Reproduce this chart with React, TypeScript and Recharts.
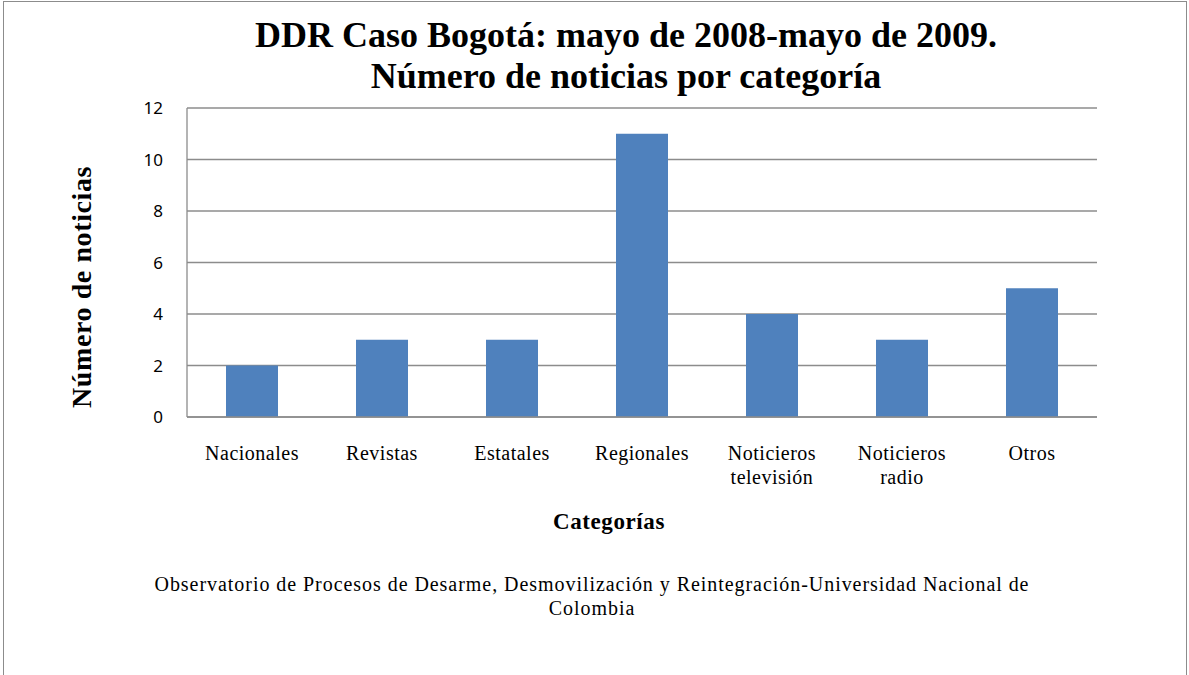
import * as React from 'react';
import { BarChart, Bar, XAxis, YAxis, CartesianGrid } from 'recharts';

const categories = [
    'Nacionales',
    'Revistas',
    'Estatales',
    'Regionales',
    'Noticieros televisión',
    'Noticieros radio',
    'Otros',
];
const noticias = [2, 3, 3, 11, 4, 3, 5];
const yTicks = [0, 2, 4, 6, 8, 10, 12];

const data = categories.map((name, i) => ({ name, value: noticias[i] }));

const serif = '"Liberation Serif", "DejaVu Serif", serif';
const sans = '"Noto Sans", "Liberation Sans", sans-serif';

const CategoryTick = (props: any) => {
    const { x, y, payload } = props;
    const words: string[] = payload.value.split(' ');
    return (
        <text x={x} y={y + 35} textAnchor='middle' fontFamily={serif} fontSize={20} letterSpacing={0.5} fill='#000'>
            {words.map((w, i) => (
                <tspan key={i} x={x} dy={i === 0 ? 0 : 24}>{w}</tspan>
            ))}
        </text>
    );
};

export default function App() {
    return (
        <div style={{ position: 'absolute', left: 0, top: 0, width: 1189, height: 675, background: '#fff', overflow: 'hidden' }}>
            <div style={{ position: 'absolute', left: 3, top: 1, width: 1184, height: 700, border: '1px solid #8c8c8c', boxSizing: 'border-box' }} />
            <div style={{
                position: 'absolute', left: 0, top: 15, width: 1252, textAlign: 'center',
                fontFamily: serif, fontWeight: 'bold', fontSize: 36, lineHeight: '41px', color: '#000',
            }}>
                DDR Caso Bogotá: mayo de 2008-mayo de 2009.<br />Número de noticias por categoría
            </div>
            <BarChart
                width={1189}
                height={675}
                data={data}
                margin={{ top: 108, right: 92, bottom: 198, left: 127 }}
                style={{ position: 'absolute', left: 0, top: 0 }}
            >
                <CartesianGrid vertical={false} stroke='#8c8c8c' strokeWidth={1.3} />
                <XAxis
                    dataKey='name'
                    height={60}
                    tickLine={false}
                    axisLine={{ stroke: '#8c8c8c', strokeWidth: 1.3 }}
                    interval={0}
                    tick={<CategoryTick />}
                />
                <YAxis
                    width={60}
                    domain={[0, 12]}
                    ticks={yTicks}
                    tickLine={false}
                    axisLine={{ stroke: '#8c8c8c', strokeWidth: 1.3 }}
                    tick={{ fontFamily: sans, fontSize: 17, fill: '#000' }}
                    tickMargin={18}
                />
                <Bar dataKey='value' fill='#4f81bd' barSize={52} isAnimationActive={false} />
            </BarChart>
            <div style={{
                position: 'absolute', left: 82, top: 287, transform: 'translate(-50%, -50%) rotate(-90deg)',
                whiteSpace: 'nowrap', fontFamily: serif, fontWeight: 'bold', fontSize: 28, letterSpacing: 0.6, color: '#000',
            }}>
                Número de noticias
            </div>
            <div style={{
                position: 'absolute', left: 609, top: 522, transform: 'translate(-50%, -50%)',
                whiteSpace: 'nowrap', fontFamily: serif, fontWeight: 'bold', fontSize: 23, letterSpacing: 0.6, color: '#000',
            }}>
                Categorías
            </div>
            <div style={{
                position: 'absolute', left: 592, top: 572, transform: 'translateX(-50%)', width: 1000, textAlign: 'center',
                fontFamily: serif, fontSize: 20, letterSpacing: 0.95, lineHeight: '24px', color: '#000',
            }}>
                Observatorio de Procesos de Desarme, Desmovilización y Reintegración-Universidad Nacional de<br />Colombia
            </div>
        </div>
    );
}
